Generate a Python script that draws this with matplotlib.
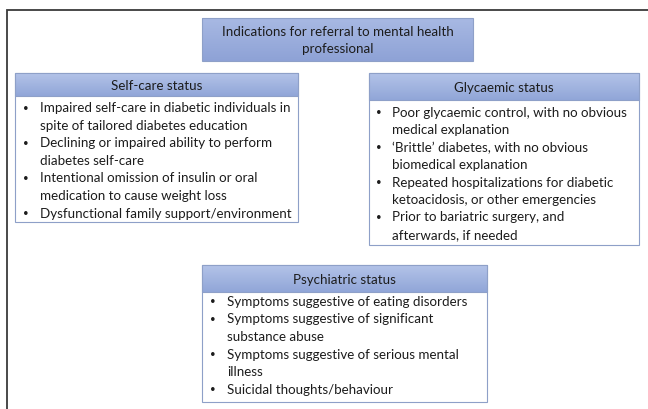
import matplotlib
matplotlib.use("Agg")
import matplotlib.pyplot as plt
import numpy as np
from matplotlib.colors import LinearSegmentedColormap
from matplotlib.patches import Rectangle

plt.rcParams['font.family'] = ['Lato', 'DejaVu Sans']

# ---- content ----
title_lines = ["Indications for referral to mental health", "professional"]

selfcare_title = "Self-care status"
selfcare_items = [
    ["Impaired self-care in diabetic individuals in", "spite of tailored diabetes education"],
    ["Declining or impaired ability to perform", "diabetes self-care"],
    ["Intentional omission of insulin or oral", "medication to cause weight loss"],
    ["Dysfunctional family support/environment"],
]

glycaemic_title = "Glycaemic status"
glycaemic_items = [
    ["Poor glycaemic control, with no obvious", "medical explanation"],
    ["\u2018Brittle\u2019 diabetes, with no obvious", "biomedical explanation"],
    ["Repeated hospitalizations for diabetic", "ketoacidosis, or other emergencies"],
    ["Prior to bariatric surgery, and", "afterwards, if needed"],
]

psych_title = "Psychiatric status"
psych_items = [
    ["Symptoms suggestive of eating disorders"],
    ["Symptoms suggestive of significant", "substance abuse"],
    ["Symptoms suggestive of serious mental", "illness"],
    ["Suicidal thoughts/behaviour"],
]

W, H = 648, 409
fig = plt.figure(figsize=(W / 100, H / 100), dpi=100)
ax = fig.add_axes([0, 0, 1, 1])
ax.set_xlim(0, W)
ax.set_ylim(H, 0)
ax.axis('off')

TXT = '#1c1c1c'
FS = 9.6
EDGE = '#8ea0c8'
grad = LinearSegmentedColormap.from_list('g', ['#b3c3e8', '#91a6d8'])
grad_top = LinearSegmentedColormap.from_list('g2', ['#a8b9e3', '#8ea2d6'])

# outer frame
ax.plot([7, 7, W + 5], [H + 5, 10, 10], color='#3a3a3a', lw=1.3,
        solid_joinstyle='miter', clip_on=False)


def grad_rect(x0, y0, x1, y1, cmap):
    g = np.linspace(0, 1, 64).reshape(-1, 1)
    ax.imshow(g, cmap=cmap, extent=(x0, x1, y1, y0), aspect='auto',
              interpolation='bilinear', zorder=1)
    ax.add_patch(Rectangle((x0, y0), x1 - x0, y1 - y0, fill=False,
                           ec=EDGE, lw=0.8, zorder=3))


def panel(x0, x1, y0, yh, y1, title, items, y_first, dy, bx, tx):
    ax.add_patch(Rectangle((x0, y0), x1 - x0, y1 - y0, fc='white',
                           ec=EDGE, lw=0.8, zorder=0.5))
    grad_rect(x0, y0, x1, yh, grad)
    ax.text((x0 + x1) / 2, (y0 + yh) / 2 + 1, title, ha='center', va='center',
            fontsize=FS, color=TXT, zorder=4)
    y = y_first
    for item in items:
        ax.text(bx, y, "\u2022", ha='center', va='center', fontsize=7,
                color=TXT, zorder=4)
        for line in item:
            ax.text(tx, y, line, ha='left', va='center', fontsize=FS,
                    color=TXT, zorder=4)
            y += dy


# title box
grad_rect(202, 18, 473, 61, grad_top)
ax.text(338, 32, title_lines[0], ha='center', va='center', fontsize=FS, color=TXT, zorder=4)
ax.text(338, 49, title_lines[1], ha='center', va='center', fontsize=FS, color=TXT, zorder=4)

panel(15, 298, 73, 96, 222, selfcare_title, selfcare_items, 108, 17.6, 26, 40)
panel(369, 639, 73, 100, 245, glycaemic_title, glycaemic_items, 113, 17.4, 379, 392)
panel(202, 487, 265, 292, 402, psych_title, psych_items, 301.5, 17.7, 213, 227)

fig.savefig('out.png', dpi=100)
